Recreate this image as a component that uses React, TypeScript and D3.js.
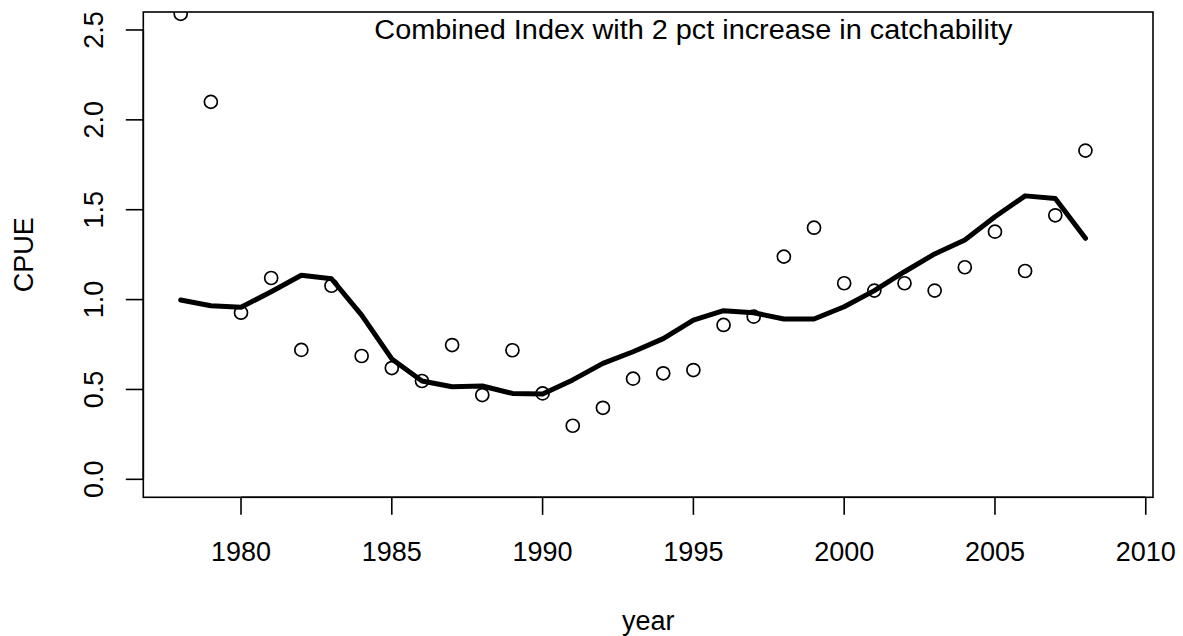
import React from "react";
import * as d3 from "d3";

const years = d3.range(1978, 2009);
const observed = [
  2.59, 2.10, 0.927, 1.12, 0.72, 1.077, 0.686, 0.619, 0.547, 0.747,
  0.469, 0.718, 0.478, 0.298, 0.398, 0.56, 0.59, 0.608, 0.859, 0.905,
  1.239, 1.40, 1.091, 1.05, 1.091, 1.05, 1.18, 1.378, 1.159, 1.469, 1.829,
];
const fitted = [
  0.998, 0.966, 0.957, 1.044, 1.135, 1.116, 0.914, 0.67, 0.547, 0.515,
  0.519, 0.478, 0.475, 0.553, 0.645, 0.71, 0.783, 0.886, 0.938, 0.927,
  0.892, 0.892, 0.96, 1.05, 1.155, 1.254, 1.332, 1.461, 1.577, 1.562, 1.341,
];
const xTicks = [1980, 1985, 1990, 1995, 2000, 2005, 2010];
const yTicks = [0, 0.5, 1, 1.5, 2, 2.5];
const title = "Combined Index with 2 pct increase in catchability";

const W = 1183;
const H = 636;
const L = 143.3, R = 1153, T = 12, B = 497.3;
const FONT = "'Liberation Sans', Arial, Helvetica, sans-serif";
const FS = 27;

export default function App() {
  const x = d3.scaleLinear().domain([1976.76, 2010.24]).range([L, R]);
  const y = d3.scaleLinear().domain([-0.1, 2.6]).range([B, T]);
  const line = d3
    .line<number>()
    .x((_, i) => x(years[i]))
    .y((d) => y(d));

  return (
    <svg
      width={W}
      height={H}
      style={{ position: "absolute", left: 0, top: 0, background: "#fff" }}
      fontFamily={FONT}
    >
      <defs>
        <clipPath id="plotclip">
          <rect x={L} y={T} width={R - L} height={B - T} />
        </clipPath>
      </defs>
      <g clipPath="url(#plotclip)">
        <path
          d={line(fitted) || ""}
          fill="none"
          stroke="#000"
          strokeWidth={5}
          strokeLinejoin="round"
          strokeLinecap="round"
        />
        {observed.map((v, i) => (
          <circle
            key={i}
            cx={x(years[i])}
            cy={y(v)}
            r={6.5}
            fill="none"
            stroke="#000"
            strokeWidth={1.7}
          />
        ))}
        <text
          x={x(1995)}
          y={y(2.5)}
          textAnchor="middle"
          dominantBaseline="central"
          fontSize={FS}
          textLength={638}
          lengthAdjust="spacingAndGlyphs"
        >
          {title}
        </text>
      </g>
      <rect x={L} y={T} width={R - L} height={B - T} fill="none" stroke="#000" strokeWidth={1.6} />
      {/* x axis */}
      <line x1={x(1980)} x2={x(2010)} y1={B} y2={B} stroke="#000" strokeWidth={1.6} />
      {xTicks.map((t) => (
        <g key={t}>
          <line x1={x(t)} x2={x(t)} y1={B} y2={B + 17.5} stroke="#000" strokeWidth={1.6} />
          <text x={x(t)} y={560.7} textAnchor="middle" fontSize={FS}>
            {t}
          </text>
        </g>
      ))}
      {/* y axis */}
      <line x1={L} x2={L} y1={y(0)} y2={y(2.5)} stroke="#000" strokeWidth={1.6} />
      {yTicks.map((t) => (
        <g key={t}>
          <line x1={L - 17.5} x2={L} y1={y(t)} y2={y(t)} stroke="#000" strokeWidth={1.6} />
          <text
            transform={`translate(103.3,${y(t)}) rotate(-90)`}
            textAnchor="middle"
            fontSize={FS}
          >
            {t.toFixed(1)}
          </text>
        </g>
      ))}
      <text x={(L + R) / 2} y={630} textAnchor="middle" fontSize={FS}>
        year
      </text>
      <text
        transform={`translate(33,${(T + B) / 2}) rotate(-90)`}
        textAnchor="middle"
        fontSize={FS}
      >
        CPUE
      </text>
    </svg>
  );
}
